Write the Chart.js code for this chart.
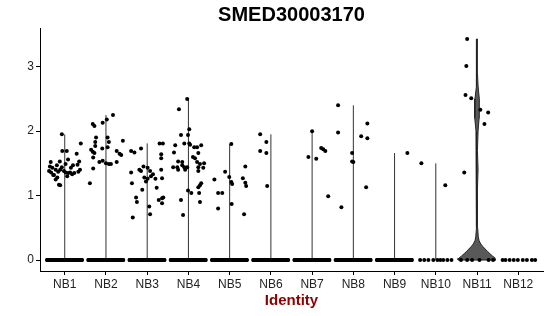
<!DOCTYPE html>
<html>
<head>
<meta charset="utf-8">
<script src="https://cdn.jsdelivr.net/npm/chart.js@4"></script>
<style>
html, body { margin: 0; padding: 0; background: #fff; }
</style>
</head>
<body>
<canvas id="vln" width="550" height="316"></canvas>
<script>
const identities = ['NB1','NB2','NB3','NB4','NB5','NB6','NB7','NB8','NB9','NB10','NB11','NB12'];
const yTicks = [0, 1, 2, 3];

// top of each violin (max expression per identity)
const violinMax = [1.95, 2.25, 1.81, 2.50, 1.80, 1.95, 2.00, 2.40, 1.66, 1.50, 3.43, 0];

// NB11 violin outline, half width in category units
const nb11ViolinY    = [0, 0.03, 0.06, 0.10, 0.13, 0.17, 0.21, 0.25, 0.30, 0.36, 0.50, 0.80, 1.10, 1.40, 1.70, 2.00, 2.20, 2.35, 2.50, 2.70, 2.90, 3.20, 3.43];
const nb11ViolinHalf = [0.46, 0.44, 0.38, 0.31, 0.26, 0.20, 0.14, 0.09, 0.05, 0.03, 0.015, 0.008, 0.012, 0.025, 0.01, 0.025, 0.05, 0.06, 0.05, 0.025, 0.01, 0.008, 0.008];

// expressing cells: values and jitter
const nb1Val = [1.95,1.69,1.69,1.81,1.65,1.56,1.52,1.53,1.45,1.43,1.47,1.49,1.53,1.48,1.38,1.36,1.40,1.37,1.32,1.38,1.36,1.35,1.36,1.35,1.33,1.37,1.40,1.28,1.25,1.17,1.16,1.44,1.43,1.47,1.32,1.30,1.40];
const nb1Jit = [-0.07,-0.06,0.05,0.39,0.29,0.08,-0.34,-0.12,-0.36,-0.30,-0.19,0.02,0.35,0.31,-0.38,-0.33,-0.22,-0.16,-0.26,-0.02,0.02,0.08,0.13,0.23,0.18,0.33,0.37,-0.18,-0.22,-0.14,-0.11,-0.07,0.15,0.20,-0.28,0.06,-0.11];
const nb2Val = [2.25,2.18,2.13,2.11,2.08,1.90,1.90,1.83,1.85,1.83,1.77,1.73,1.75,1.71,1.68,1.66,1.69,1.65,1.63,1.59,1.52,1.54,1.50,1.49,1.49,1.52,1.42,1.19];
const nb2Jit = [0.17,0.02,-0.08,-0.32,-0.28,0.04,-0.24,0.07,0.41,-0.26,-0.26,-0.09,0.04,-0.36,-0.32,-0.28,0.26,0.33,0.37,-0.31,-0.16,-0.08,0.00,0.07,0.12,0.26,-0.31,-0.39];
const nb3Val = [1.81,1.81,1.69,1.67,1.73,1.64,1.58,1.45,1.40,1.38,1.36,1.43,1.38,1.28,1.26,1.22,1.33,1.30,1.26,1.40,1.27,1.19,1.09,1.12,0.97,0.90,0.93,0.96,0.97,0.88,0.83,0.71,0.66];
const nb3Jit = [0.30,0.38,-0.39,-0.31,-0.15,0.34,0.34,-0.09,-0.19,-0.15,-0.39,0.01,0.07,-0.07,0.01,-0.03,0.14,0.09,0.20,0.34,0.36,-0.37,-0.12,0.23,-0.27,-0.25,0.28,0.36,0.39,0.36,0.05,0.07,-0.35];
const nb4Val = [2.50,2.34,2.03,1.94,1.94,1.78,1.67,1.81,1.81,1.79,1.75,1.75,1.78,1.66,1.60,1.58,1.53,1.52,1.44,1.44,1.40,1.47,1.44,1.44,1.40,1.52,1.49,1.50,1.44,1.43,1.38,1.19,1.16,1.13,1.08,1.04,0.93,1.04,0.90,0.70];
const nb4Jit = [-0.03,-0.23,0.02,-0.01,-0.18,-0.32,-0.35,-0.10,0.02,0.04,0.14,0.21,0.31,0.24,0.11,0.16,-0.25,-0.15,-0.37,-0.27,-0.25,-0.15,-0.10,-0.03,-0.08,0.21,0.28,0.38,0.24,0.36,0.24,0.31,0.28,0.24,-0.01,0.07,-0.18,0.26,0.28,-0.13];
const nb5Val = [1.80,1.25,1.04,1.04,0.80,1.37,1.29,1.21,1.18,0.87,1.27,1.45,1.20,1.15,0.71];
const nb5Jit = [0.04,-0.37,-0.28,-0.18,-0.28,-0.11,-0.01,0.04,0.06,0.05,0.32,0.38,0.38,0.40,0.35];
const nb6Val = [1.95,1.83,1.69,1.66,1.15];
const nb6Jit = [-0.26,-0.11,-0.26,-0.11,-0.09];
const nb7Val = [2.00,1.74,1.72,1.69,1.60,1.57,0.99];
const nb7Jit = [0.00,0.22,0.27,0.32,-0.09,0.10,0.39];
const nb8Val = [2.40,1.98,2.12,1.92,1.89,1.66,1.53,1.52,0.82,1.13];
const nb8Jit = [-0.37,-0.37,0.34,0.19,0.34,-0.03,-0.03,0.00,-0.29,0.31];
const nb9Val = [1.66];
const nb9Jit = [0.31];
const nb10Val = [1.50,1.16];
const nb10Jit = [-0.35,0.23];
const nb11Val = [3.43,3.01,2.56,2.51,2.33,2.29,2.11,1.36];
const nb11Jit = [-0.24,-0.26,-0.28,-0.14,0.08,0.27,0.18,-0.31];
const nb12Val = [];
const nb12Jit = [];

// cells at zero: dense clusters get many cells, sparse ones listed
const zeroCounts = [90, 90, 90, 90, 90, 90, 90, 90, 90, 0, 0, 0];
const nb10ZeroJit = [-0.38,-0.28,-0.18,-0.06,0.04,0.11,0.18,0.28,0.38];
const nb11ZeroJit = [-0.39,-0.24,-0.12,0.06,0.28,0.39];
const nb12ZeroJit = [-0.38,-0.31,-0.21,-0.11,-0.01,0.11,0.21,0.33,0.41];

const allVals = [nb1Val,nb2Val,nb3Val,nb4Val,nb5Val,nb6Val,nb7Val,nb8Val,nb9Val,nb10Val,nb11Val,nb12Val];
const allJits = [nb1Jit,nb2Jit,nb3Jit,nb4Jit,nb5Jit,nb6Jit,nb7Jit,nb8Jit,nb9Jit,nb10Jit,nb11Jit,nb12Jit];
const sparseZero = {9: nb10ZeroJit, 10: nb11ZeroJit, 11: nb12ZeroJit};

const FONT = 'Liberation Sans, Arial, sans-serif';

let points = [];
allVals.forEach(function(vals, i) {
    vals.forEach(function(v, k) {
        points.push({x: i + 1 + allJits[i][k], y: v});
    });
});
identities.forEach(function(id, i) {
    let n = zeroCounts[i];
    for (let k = 0; k < n; k++) {
        points.push({x: i + 1 - 0.43 + 0.85 * k / (n - 1), y: 0});
    }
    if (sparseZero[i]) {
        sparseZero[i].forEach(function(j) { points.push({x: i + 1 + j, y: 0}); });
    }
});

let datasets = [{
    type: 'scatter',
    data: points,
    pointRadius: 2,
    pointBackgroundColor: '#000',
    pointBorderWidth: 0,
    order: 0
}];

// thin violins (just a line from 0 to max)
violinMax.forEach(function(m, i) {
    if (m <= 0 || i == 10) return;
    datasets.push({
        type: 'scatter',
        data: [{x: i + 1, y: 0}, {x: i + 1, y: m}],
        showLine: true,
        borderColor: '#333',
        borderWidth: 1,
        pointRadius: 0,
        order: 1
    });
});

// NB11 violin shape
let shape = [];
nb11ViolinY.forEach(function(y, k) { shape.push({x: 11 + nb11ViolinHalf[k], y: y}); });
for (let k = nb11ViolinY.length - 1; k >= 0; k--) {
    shape.push({x: 11 - nb11ViolinHalf[k], y: nb11ViolinY[k]});
}
shape.push(shape[0]);
datasets.push({
    type: 'scatter',
    data: shape,
    showLine: true,
    fill: 'shape',
    backgroundColor: '#595959',
    borderColor: '#222',
    borderWidth: 1,
    pointRadius: 0,
    tension: 0,
    order: 1
});

new Chart(document.getElementById('vln'), {
    type: 'scatter',
    data: {datasets: datasets},
    options: {
        responsive: false,
        animation: false,
        layout: {padding: {left: 0, right: 7, top: 0, bottom: 0}},
        plugins: {
            legend: {display: false},
            tooltip: {enabled: false},
            title: {
                display: true,
                text: 'SMED30003170',
                fullSize: false,
                color: '#000',
                font: {family: FONT, size: 20, weight: 'bold'},
                padding: {top: 3, bottom: 1}
            }
        },
        scales: {
            x: {
                type: 'linear',
                min: 0.4,
                max: 12.6,
                afterBuildTicks: function(s) { s.ticks = identities.map(function(l, i) { return {value: i + 1}; }); },
                afterFit: function(s) { s.height = 45; },
                grid: {drawOnChartArea: false, drawTicks: true, tickLength: 4, color: '#000'},
                border: {display: true, color: '#000', width: 1},
                ticks: {
                    callback: function(v) { return identities[v - 1]; },
                    color: '#222',
                    font: {family: FONT, size: 12},
                    padding: 2,
                    maxRotation: 0,
                    autoSkip: false
                },
                title: {
                    display: true,
                    text: 'Identity',
                    color: '#8B0000',
                    font: {family: FONT, size: 15, weight: 'bold'},
                    padding: {top: 0, bottom: 6}
                }
            },
            y: {
                min: -0.17,
                max: 3.6,
                afterBuildTicks: function(s) { s.ticks = yTicks.map(function(v) { return {value: v}; }); },
                afterFit: function(s) { s.width = 40; },
                grid: {drawOnChartArea: false, drawTicks: true, tickLength: 4, color: '#000'},
                border: {display: true, color: '#000', width: 1},
                ticks: {
                    color: '#222',
                    font: {family: FONT, size: 12},
                    padding: 2
                }
            }
        }
    }
});
</script>
</body>
</html>
